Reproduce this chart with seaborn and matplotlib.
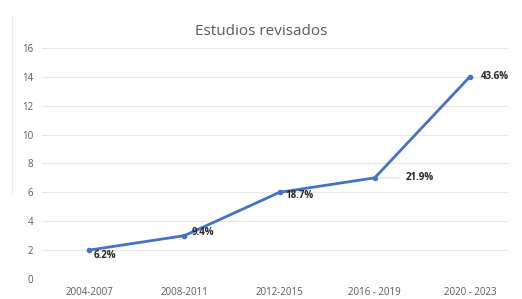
import pandas as pd
import matplotlib.pyplot as plt
import seaborn as sns

periods = ['2004-2007', '2008-2011', '2012-2015', '2016 - 2019', '2020 - 2023']
studies = [2, 3, 6, 7, 14]
pct_labels = ['6.2%', '9.4%', '18.7%', '21.9%', '43.6%']
y_ticks = [0, 2, 4, 6, 8, 10, 12, 14, 16]

df = pd.DataFrame({'periodo': periods, 'estudios': studies})

sns.set_style('white')
plt.rcParams['font.family'] = ['Open Sans', 'DejaVu Sans']

fig = plt.figure(figsize=(5.22, 2.99), dpi=100)
ax = fig.add_axes([0.08, 0.067, 0.893, 0.773])

sns.lineplot(data=df, x='periodo', y='estudios', ax=ax, color='#4472C4',
             linewidth=2, marker='o', markersize=4, markeredgewidth=0, sort=False)

# data labels (offsets in points)
offsets = [(3, -4), (5, 2), (4, -2), (22, 0), (8, 0)]
for i, (v, lab) in enumerate(zip(studies, pct_labels)):
    dx, dy = offsets[i]
    ax.annotate(lab, (i, v), xytext=(dx, dy), textcoords='offset points',
                fontsize=7, fontweight='bold', color='#262626',
                ha='left', va='center')
# small leader line for 21.9%
ax.annotate('', (3, 7), xytext=(20, 0), textcoords='offset points',
            arrowprops=dict(arrowstyle='-', color='#d0d0d0', lw=0.6))

ax.set_ylim(0, 16)
ax.set_yticks(y_ticks)
ax.set_xlim(-0.5, 4.4)
ax.grid(axis='y', color='#e6e6e6', linewidth=0.8)
ax.set_axisbelow(True)
for s in ax.spines.values():
    s.set_visible(False)
ax.tick_params(axis='both', labelsize=7, colors='#595959', length=0, pad=6)
ax.set_xlabel('')
ax.set_ylabel('')

fig.text(0.5, 0.895, 'Estudios revisados', ha='center', va='center',
         fontsize=11, color='#595959')
fig.add_artist(plt.Line2D([0.023, 0.023], [0.35, 0.95], color='#e8e8e8', lw=0.8))

fig.savefig('out.png', dpi=100)
plt.close(fig)
